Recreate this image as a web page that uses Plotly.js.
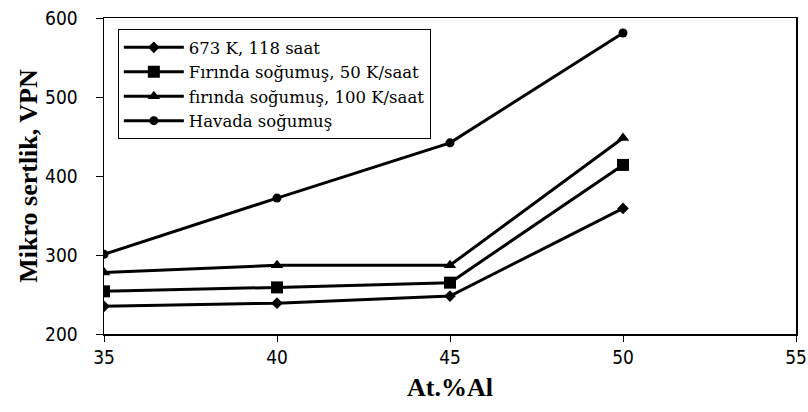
<!DOCTYPE html>
<html>
<head>
<meta charset="utf-8">
<script src="https://cdn.plot.ly/plotly-3.0.1.min.js"></script>
<style>html,body{margin:0;padding:0;background:#fff;}#chart{width:808px;height:412px;}</style>
</head>
<body>
<div id="chart"></div>
<script>
const xAl = [35, 40, 45, 50];
const names = ["673 K, 118 saat", "Fırında soğumuş, 50 K/saat", "fırında soğumuş, 100 K/saat", "Havada soğumuş"];
const s673K = [235, 239, 248, 359];
const sFirin50 = [254, 259, 265, 414];
const sFirin100 = [278, 287, 287, 448];
const sHavada = [301, 372, 442, 581];
const xTicks = [35, 40, 45, 50, 55];
const yTicks = [200, 300, 400, 500, 600];

const series = [s673K, sFirin50, sFirin100, sHavada];
const symbols = ["diamond", "square", "triangle-up", "circle"];
const sizes = [9, 12, 11, 9];

const traces = series.map((y, i) => ({
  x: xAl, y: y, name: names[i], type: "scatter", mode: "lines+markers",
  line: {color: "#000", width: 3},
  marker: {symbol: symbols[i], size: sizes[i], color: "#000"}
}));

const layout = {
  width: 808, height: 412,
  margin: {l: 104, r: 12, t: 18, b: 78},
  paper_bgcolor: "#fff", plot_bgcolor: "#fff",
  showlegend: true,
  legend: {
    x: 0.02, y: 0.965, xanchor: "left", yanchor: "top",
    bgcolor: "#fff", bordercolor: "#000", borderwidth: 1,
    font: {family: "DejaVu Serif", size: 16.5, color: "#000"},
    tracegroupgap: 0, itemwidth: 60
  },
  xaxis: {
    range: [35, 55], tickvals: xTicks, ticktext: xTicks.map(String),
    showline: true, linecolor: "#000", linewidth: 1.5, mirror: true,
    ticks: "outside", ticklen: 6, tickcolor: "#000", showgrid: false, zeroline: false,
    tickfont: {family: "DejaVu Sans Condensed", size: 19, color: "#000"},
    title: {text: "At.%Al", font: {family: "Liberation Serif", size: 26, color: "#000", weight: "bold"}, standoff: 10}
  },
  yaxis: {
    range: [200, 600], tickvals: yTicks, ticktext: yTicks.map(String),
    showline: true, linecolor: "#000", linewidth: 1.5, mirror: true,
    ticks: "outside", ticklen: 7, tickcolor: "#000", showgrid: false, zeroline: false,
    ticklabelstandoff: 14,
    tickfont: {family: "DejaVu Sans Condensed", size: 19, color: "#000"},
    title: {text: "Mikro sertlik, VPN", font: {family: "Liberation Serif", size: 26, color: "#000", weight: "bold"}, standoff: 0}
  }
};

Plotly.newPlot("chart", traces, layout, {displayModeBar: false, staticPlot: true});
</script>
</body>
</html>
